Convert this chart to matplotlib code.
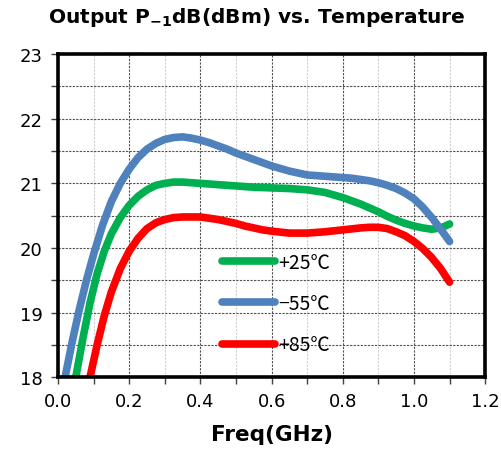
import matplotlib
matplotlib.use("Agg")
import matplotlib.pyplot as plt
from matplotlib.ticker import MultipleLocator, FormatStrFormatter

# Output P-1dB versus frequency at three temperatures
freq_m55 = [0.02, 0.04, 0.06, 0.08, 0.1, 0.125, 0.15, 0.175, 0.2, 0.225, 0.25, 0.275,
            0.3, 0.325, 0.35, 0.375, 0.4, 0.425, 0.45, 0.475, 0.5, 0.525, 0.55, 0.575,
            0.6, 0.625, 0.65, 0.675, 0.7, 0.725, 0.75, 0.775, 0.8, 0.825, 0.85, 0.875,
            0.9, 0.925, 0.95, 0.975, 1.0, 1.025, 1.05, 1.075, 1.1]
p1db_m55 = [18.0, 18.55, 19.05, 19.5, 19.9, 20.35, 20.72, 21.0, 21.22, 21.4, 21.53, 21.62,
            21.68, 21.71, 21.72, 21.7, 21.67, 21.63, 21.58, 21.53, 21.47, 21.42, 21.37, 21.32,
            21.27, 21.23, 21.19, 21.16, 21.13, 21.12, 21.11, 21.1, 21.09, 21.08, 21.06, 21.04,
            21.01, 20.97, 20.92, 20.85, 20.76, 20.63, 20.47, 20.29, 20.1]

freq_p25 = [0.05, 0.07, 0.09, 0.11, 0.13, 0.15, 0.175, 0.2, 0.225, 0.25, 0.275, 0.3,
            0.325, 0.35, 0.375, 0.4, 0.45, 0.5, 0.55, 0.6, 0.65, 0.7, 0.725, 0.75,
            0.775, 0.8, 0.825, 0.85, 0.875, 0.9, 0.925, 0.95, 0.975, 1.0, 1.025, 1.05,
            1.075, 1.1]
p1db_p25 = [18.0, 18.6, 19.15, 19.6, 19.95, 20.22, 20.47, 20.66, 20.8, 20.9, 20.97, 21.0,
            21.02, 21.02, 21.01, 21.0, 20.98, 20.96, 20.94, 20.93, 20.92, 20.9, 20.88, 20.86,
            20.82, 20.78, 20.73, 20.68, 20.62, 20.56, 20.49, 20.43, 20.38, 20.34, 20.31, 20.29,
            20.31, 20.37]

freq_p85 = [0.09, 0.11, 0.13, 0.15, 0.175, 0.2, 0.225, 0.25, 0.275, 0.3, 0.325, 0.35,
            0.375, 0.4, 0.425, 0.45, 0.475, 0.5, 0.525, 0.55, 0.575, 0.6, 0.65, 0.7,
            0.75, 0.8, 0.85, 0.875, 0.9, 0.925, 0.95, 0.975, 1.0, 1.025, 1.05, 1.075, 1.1]
p1db_p85 = [18.0, 18.5, 18.95, 19.32, 19.68, 19.95, 20.15, 20.3, 20.39, 20.44, 20.47, 20.48,
            20.48, 20.48, 20.46, 20.44, 20.41, 20.38, 20.34, 20.31, 20.28, 20.26, 20.23, 20.23,
            20.25, 20.28, 20.31, 20.32, 20.32, 20.3, 20.25, 20.19, 20.1, 19.99, 19.85, 19.68, 19.47]

plt.rcParams["mathtext.fontset"] = "dejavusans"

fig = plt.figure(figsize=(5.02, 4.6), dpi=100)
ax = fig.add_axes([0.1155, 0.178, 0.851, 0.702])

lw = 5.5
ax.plot(freq_p25, p1db_p25, color="#00B050", lw=lw, solid_capstyle="round",
        solid_joinstyle="round", label="+25℃")
ax.plot(freq_m55, p1db_m55, color="#4F81BD", lw=lw, solid_capstyle="round",
        solid_joinstyle="round", label="−55℃")
ax.plot(freq_p85, p1db_p85, color="#FF0000", lw=lw, solid_capstyle="round",
        solid_joinstyle="round", label="+85℃")

ax.set_xlim(0, 1.2)
ax.set_ylim(18, 23)
ax.xaxis.set_major_locator(MultipleLocator(0.2))
ax.xaxis.set_minor_locator(MultipleLocator(0.1))
ax.yaxis.set_major_locator(MultipleLocator(1))
ax.yaxis.set_minor_locator(MultipleLocator(0.5))
ax.xaxis.set_major_formatter(FormatStrFormatter("%.1f"))

# grid: dark dashed on majors, light dashed on x minors
dash = (0, (2, 1.2))
ax.grid(which="major", axis="both", color="#505050", linestyle=dash, lw=0.8)
ax.grid(which="minor", axis="y", color="#505050", linestyle=dash, lw=0.8)
ax.grid(which="minor", axis="x", color="#d0d0d0", linestyle=dash, lw=0.8)
ax.set_axisbelow(True)

for s in ax.spines.values():
    s.set_linewidth(2.6)
    s.set_color("black")

ax.tick_params(which="both", direction="out", length=5, width=1, color="#404040",
               labelsize=13, pad=6)

fig.text(0.512, 0.961, r"Output P$_{\mathbf{-1}}$dB(dBm) vs. Temperature",
         fontsize=14.5, fontweight="bold", ha="center", va="center")
ax.set_xlabel("Freq(GHz)", fontsize=15.5, fontweight="bold", labelpad=10)

leg = ax.legend(loc="center left", bbox_to_anchor=(0.384, 0.228), frameon=False,
                borderpad=0, borderaxespad=0,
                handlelength=2.7, handletextpad=0.2, labelspacing=1.05,
                prop={"family": ["Noto Sans CJK JP", "DejaVu Sans"], "size": 14})
for h in leg.get_lines():
    h.set_linewidth(5.5)
    h.set_solid_capstyle("round")

fig.savefig("out.png", dpi=100)
